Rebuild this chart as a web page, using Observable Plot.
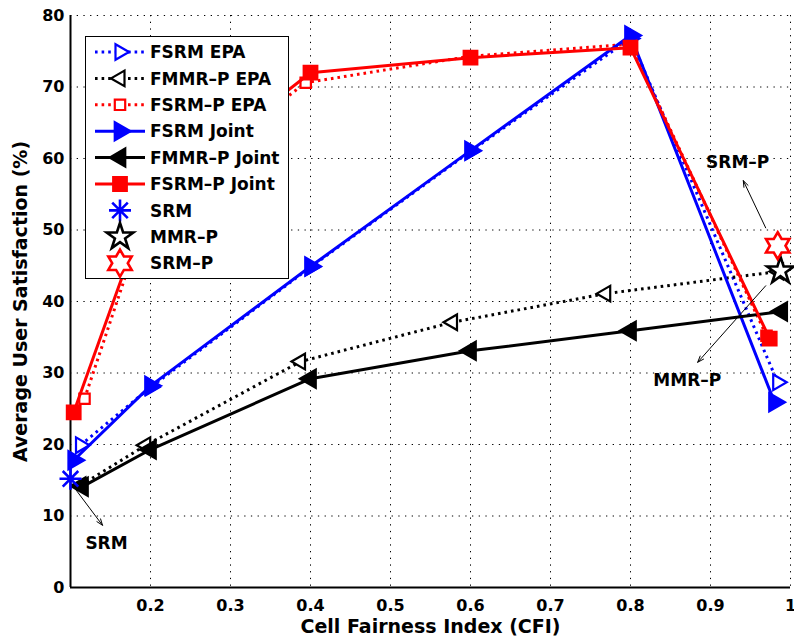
<!DOCTYPE html>
<html><head><meta charset="utf-8">
<script src="https://cdn.jsdelivr.net/npm/d3@7"></script>
<script src="https://cdn.jsdelivr.net/npm/@observablehq/plot@0.6"></script>
<style>
body{margin:0;background:#fff;}
#wrap{position:relative;width:794px;height:641px;overflow:hidden;}
</style></head><body><div id="wrap"></div>
<script>
// ---------- data ----------
const fsrmEpaX   = [0.1125, 0.2, 0.4, 0.6, 0.8, 0.984];
const fsrmEpaY   = [19.9, 28.0, 44.8, 61.0, 76.8, 28.7];
const fmmrEpaX   = [0.113, 0.194, 0.3875, 0.5775, 0.769, 0.985];
const fmmrEpaY   = [14.3, 19.9, 31.6, 37.1, 41.1, 44.2];
const fsrmpEpaX  = [0.1175, 0.2, 0.394, 0.6, 0.8, 0.97];
const fsrmpEpaY  = [26.4, 54.0, 70.6, 74.3, 76.0, 35.2];
const fsrmJointX = [0.104, 0.2, 0.4, 0.6, 0.8, 0.98];
const fsrmJointY = [17.8, 28.2, 44.9, 61.1, 77.2, 25.9];
const fmmrJointX = [0.115, 0.2, 0.4, 0.6, 0.8, 0.989];
const fmmrJointY = [14.1, 19.3, 29.2, 33.1, 35.9, 38.6];
const fsrmpJointX = [0.104, 0.2, 0.4, 0.6, 0.8, 0.974];
const fsrmpJointY = [24.5, 54.5, 72.0, 74.1, 75.5, 34.8];
const srmX = [0.1],     srmY = [15.2];
const mmrpX = [0.9875], mmrpY = [44.3];
const srmpX = [0.984],  srmpY = [47.8];

const xTicks = [0.2, 0.3, 0.4, 0.5, 0.6, 0.7, 0.8, 0.9, 1];
const yTicks = [0, 10, 20, 30, 40, 50, 60, 70, 80];

const annoText = ["SRM", "MMR–P", "SRM–P"];
const annoX = [0.145, 0.871, 0.934];
const annoY = [6.15, 28.95, 59.4];
const arrowX1 = [0.1025, 0.969, 0.969];
const arrowY1 = [14.3, 42.2, 50.3];
const arrowX2 = [0.14, 0.884, 0.941];
const arrowY2 = [8.7, 31.5, 56.9];

// ---------- symbols ----------
const R = s => Math.sqrt(s / Math.PI);
const triRight = {draw(c, s){const r=R(s); c.moveTo(r,0); c.lineTo(-r/2,-r*0.866); c.lineTo(-r/2,r*0.866); c.closePath();}};
const triLeft  = {draw(c, s){const r=R(s); c.moveTo(-r,0); c.lineTo(r/2,-r*0.866); c.lineTo(r/2,r*0.866); c.closePath();}};
const square   = {draw(c, s){const r=R(s); c.rect(-r,-r,2*r,2*r);}};
const asterisk = {draw(c, s){const r=R(s), d=r*Math.SQRT1_2;
  c.moveTo(-r,0); c.lineTo(r,0); c.moveTo(0,-r); c.lineTo(0,r);
  c.moveTo(-d,-d); c.lineTo(d,d); c.moveTo(-d,d); c.lineTo(d,-d);}};
const pentagram = {draw(c, s){const r=R(s), ri=r*0.382;
  for(let i=0;i<10;i++){const a=-Math.PI/2+i*Math.PI/5, q=i%2?ri:r; i?c.lineTo(q*Math.cos(a),q*Math.sin(a)):c.moveTo(q*Math.cos(a),q*Math.sin(a));} c.closePath();}};
const hexagram = {draw(c, s){const r=R(s), ri=r/Math.sqrt(3);
  for(let i=0;i<12;i++){const a=-Math.PI/2+i*Math.PI/6, q=i%2?ri:r; i?c.lineTo(q*Math.cos(a),q*Math.sin(a)):c.moveTo(q*Math.cos(a),q*Math.sin(a));} c.closePath();}};

const BLUE="#0000ff", RED="#ff0000", BLACK="#000000";
const DOT = "2.6,4";
const FONT = "'DejaVu Sans', 'Liberation Sans', sans-serif";

const series = [
  {name:"FSRM EPA",     xs:fsrmEpaX,  ys:fsrmEpaY,  color:BLUE,  dash:DOT,  symbol:triRight, r:9,   filled:false},
  {name:"FMMR–P EPA",   xs:fmmrEpaX,  ys:fmmrEpaY,  color:BLACK, dash:DOT,  symbol:triLeft,  r:9,   filled:false},
  {name:"FSRM–P EPA",   xs:fsrmpEpaX, ys:fsrmpEpaY, color:RED,   dash:DOT,  symbol:square,   r:5.2, filled:false},
  {name:"FSRM Joint",   xs:fsrmJointX, ys:fsrmJointY, color:BLUE,  dash:null, symbol:triRight, r:10.5, filled:true},
  {name:"FMMR–P Joint", xs:fmmrJointX, ys:fmmrJointY, color:BLACK, dash:null, symbol:triLeft,  r:10.5, filled:true},
  {name:"FSRM–P Joint", xs:fsrmpJointX, ys:fsrmpJointY, color:RED, dash:null, symbol:square,   r:6.8, filled:true}
];
const singles = [
  {name:"SRM",   xs:srmX,  ys:srmY,  color:BLUE,  symbol:asterisk,  r:11,   fill:"none"},
  {name:"MMR–P", xs:mmrpX, ys:mmrpY, color:BLACK, symbol:pentagram, r:14,   fill:"white"},
  {name:"SRM–P", xs:srmpX, ys:srmpY, color:RED,   symbol:hexagram,  r:13.5, fill:"white"}
];

const rows = (xs, ys) => xs.map((x, i) => ({x, y: ys[i]}));

const marks = [
  Plot.gridX(xTicks, {stroke:"black", strokeOpacity:1, strokeWidth:1, strokeDasharray:"1.3,5.4"}),
  Plot.gridY(yTicks.filter(d => d > 0), {stroke:"black", strokeOpacity:1, strokeWidth:1, strokeDasharray:"1.3,5.4"}),
  Plot.ruleX([0.1], {stroke:"black", strokeWidth:2}),
  Plot.ruleY([0], {stroke:"black", strokeWidth:2}),
  Plot.axisX({ticks:xTicks, tickSize:0, tickPadding:12, label:null, fontSize:16, fontWeight:"bold", fontFamily:FONT, fill:"black",
              tickFormat:d => d === 1 ? "1" : d.toFixed(1)}),
  Plot.axisY({ticks:yTicks, tickSize:0, tickPadding:6, label:null, fontSize:16, fontWeight:"bold", fontFamily:FONT, fill:"black"})
];
for (const s of series) {
  const d = rows(s.xs, s.ys);
  marks.push(Plot.line(d, {x:"x", y:"y", stroke:s.color, strokeWidth:3, strokeDasharray:s.dash, strokeLinecap:"butt"}));
  marks.push(Plot.dot(d, {x:"x", y:"y", symbol:s.symbol, r:s.r, fill:s.filled ? s.color : "white", stroke:s.color, strokeWidth:2.2}));
}
for (const s of singles) {
  marks.push(Plot.dot(rows(s.xs, s.ys), {x:"x", y:"y", symbol:s.symbol, r:s.r, fill:s.fill, stroke:s.color, strokeWidth:2.6}));
}
const arrows = arrowX1.map((x1, i) => ({x1, y1:arrowY1[i], x2:arrowX2[i], y2:arrowY2[i]}));
marks.push(Plot.arrow(arrows, {x1:"x1", y1:"y1", x2:"x2", y2:"y2", stroke:"black", strokeWidth:1, headLength:10, headAngle:40}));
marks.push(Plot.text(annoText.map((t, i) => ({t, x:annoX[i], y:annoY[i]})), {x:"x", y:"y", text:"t", fontSize:17, fontWeight:"bold", fontFamily:FONT, fill:"black"}));
marks.push(Plot.text(["Cell Fairness Index (CFI)"], {frameAnchor:"bottom", textAnchor:"middle", lineAnchor:"middle", dy:39, fontSize:19, fontWeight:"bold", fontFamily:FONT, fill:"black"}));
marks.push(Plot.text(["Average User Satisfaction (%)"], {frameAnchor:"left", textAnchor:"middle", lineAnchor:"middle", dx:-50, rotate:-90, fontSize:19, fontWeight:"bold", fontFamily:FONT, fill:"black"}));

const chart = Plot.plot({
  width:794, height:641,
  marginLeft:70, marginRight:4, marginTop:15, marginBottom:54,
  x:{domain:[0.1, 1]},
  y:{domain:[0, 80]},
  style:{fontFamily:FONT, fontSize:"16px", fontWeight:"bold", color:"black", background:"white", overflow:"visible"},
  marks
});
const wrap = document.getElementById("wrap");
wrap.appendChild(chart);

// ---------- legend overlay ----------
const leg = d3.select(wrap).append("svg")
  .attr("width", 794).attr("height", 641)
  .style("position", "absolute").style("left", "0").style("top", "0")
  .style("font-family", FONT);
leg.append("rect").attr("x", 85.5).attr("y", 36.5).attr("width", 203).attr("height", 242)
  .attr("fill", "white").attr("stroke", "black").attr("stroke-width", 1);
const entries = [...series.map(s => ({...s, line:true})), ...singles.map(s => ({...s, line:false}))];
entries.forEach((e, i) => {
  const cy = 52 + i * 26.4;
  if (e.line) {
    leg.append("line").attr("x1", 95).attr("x2", 145).attr("y1", cy).attr("y2", cy)
      .attr("stroke", e.color).attr("stroke-width", 3).attr("stroke-dasharray", e.dash);
  }
  const fill = e.line ? (e.filled ? e.color : "white") : e.fill;
  leg.append("path")
    .attr("d", d3.symbol().type(e.symbol).size(e.r * e.r * Math.PI)())
    .attr("transform", `translate(120,${cy})`)
    .attr("fill", fill).attr("stroke", e.color).attr("stroke-width", e.line ? 2.2 : 2.6);
  leg.append("text").attr("x", 150).attr("y", cy).attr("dy", "0.36em")
    .attr("font-size", 17).attr("font-weight", "bold").attr("fill", "black").text(e.name);
});
</script></body></html>
